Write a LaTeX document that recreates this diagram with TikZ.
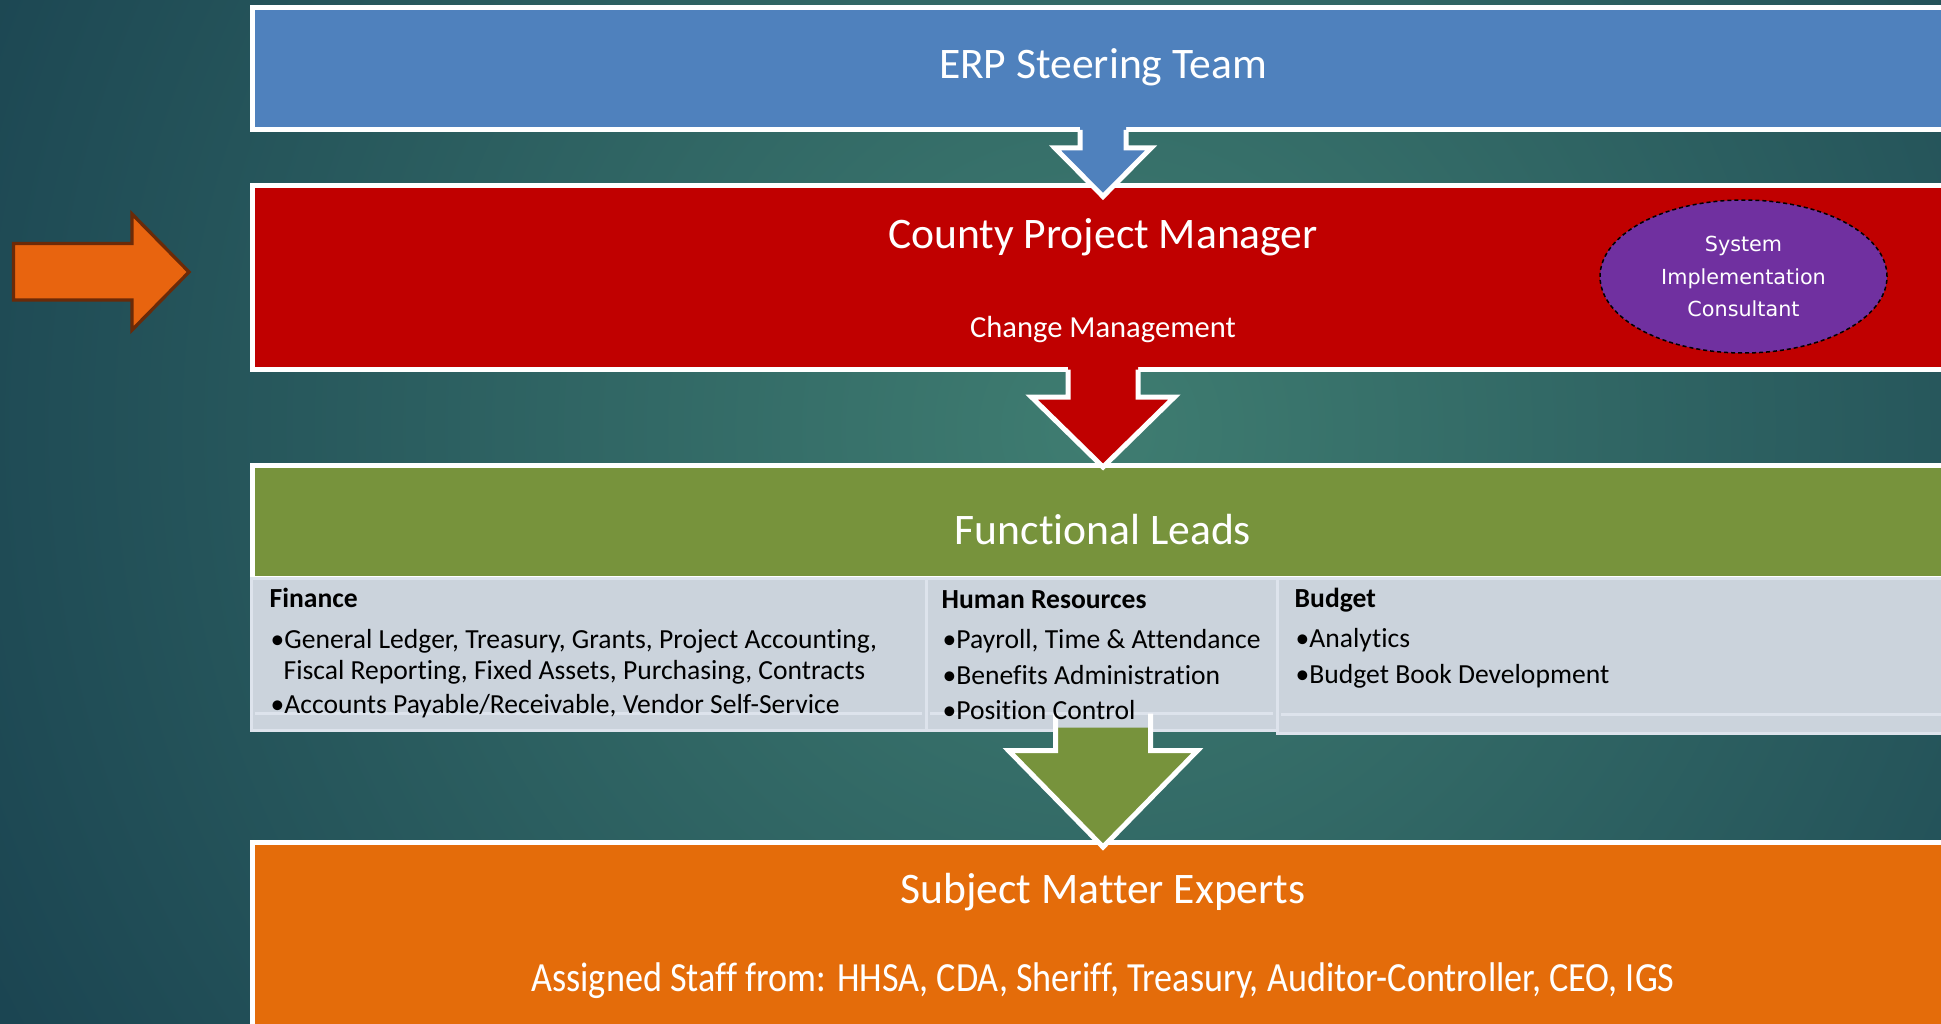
\documentclass[tikz,border=0pt]{standalone}
\usepackage{fontspec}
\usepackage{graphicx}
\setmainfont{Carlito}[Ligatures=NoCommon]
\newfontfamily\consultfamily{DejaVu Sans}
\usetikzlibrary{shapes.geometric, calc}

\definecolor{bgouter}{HTML}{18404F}
\definecolor{bginner}{HTML}{3F7D71}
\definecolor{steerblue}{HTML}{4F81BD}
\definecolor{cpmred}{HTML}{C00000}
\definecolor{leadgreen}{HTML}{77933C}
\definecolor{smeorange}{HTML}{E46C0A}
\definecolor{consultpurple}{HTML}{7030A0}
\definecolor{panelgray}{HTML}{CBD3DC}
\definecolor{panelline}{HTML}{DDE3EC}
\definecolor{pointerorange}{HTML}{E8640F}
\definecolor{pointerbrown}{HTML}{6B2A08}

\newcommand\bandtitle{\fontsize{12.4}{15}\selectfont}
\newcommand\bandsub{\fontsize{8.7}{10}\selectfont}
\newcommand\staffline{\fontsize{11.8}{14}\selectfont}
\newcommand\paneltext{\fontsize{7.85}{9}\selectfont}
\newcommand\consulttext{\consultfamily\fontsize{5.9}{9.25}\selectfont}

% block arrow: colour, start point, target node, half shaft, half head, head depth, tip offset, edge lead-in
\newcommand\flowarrow[8]{%
  \coordinate (arrowtop) at (#2 -| #3.north);
  \coordinate (arrowtip) at ($(#3.north)+(0,#7)$);
  \fill[#1] ($(arrowtop)+(-#4,-3)$) -- ($(arrowtop)+(-#4,#6)$) -- ($(arrowtop)+(-#5,#6)$) -- (arrowtip)
    -- ($(arrowtop)+(#5,#6)$) -- ($(arrowtop)+(#4,#6)$) -- ($(arrowtop)+(#4,-3)$) -- cycle;
  \draw[arrowedge] ($(arrowtop)+(-#4,-#8)$) -- ($(arrowtop)+(-#4,#6)$) -- ($(arrowtop)+(-#5,#6)$) -- (arrowtip)
    -- ($(arrowtop)+(#5,#6)$) -- ($(arrowtop)+(#4,#6)$) -- ($(arrowtop)+(#4,-#8)$);
}

\begin{document}
\begin{tikzpicture}[x=0.1mm, y=-0.1mm,
    band/.style={rectangle, draw=white, line width=0.5mm, minimum width=170.1mm, outer sep=0pt, inner sep=0pt},
    panel/.style={rectangle, fill=panelgray, draw=panelline, line width=0.3mm, outer sep=0pt, inner sep=0pt},
    bandlabel/.style={text=white, anchor=base, inner sep=0pt, font=\bandtitle},
    panellabel/.style={anchor=base west, inner sep=0pt, font=\paneltext},
    arrowedge/.style={draw=white, line width=0.5mm, miter limit=10},
    pointer/.style={fill=pointerorange, draw=pointerbrown, line width=0.33mm}]

    \useasboundingbox (0,0) rectangle (1941,1024);
    \clip (0,0) rectangle (1941,1024);

    \fill[bgouter] (0,0) rectangle (1941,1024);
    \shade[inner color=bginner, outer color=bgouter] (1100,430) circle (1350);

    \node[band, fill=steerblue, minimum height=12.25mm] (steer) at (1103,68.75) {};
    \node[band, fill=cpmred, minimum height=18.4mm] (cpm) at (1103,277.5) {};
    \node[band, fill=leadgreen, minimum height=11.3mm] (leads) at (1103,521.5) {};
    \node[band, fill=smeorange, minimum height=20mm] (smes) at (1103,942) {};

    \node[panel, minimum width=67.5mm, minimum height=15.2mm] (finance) at (588.5,654.5) {};
    \node[panel, minimum width=35.1mm, minimum height=15.2mm] (hr) at (1101.5,654.5) {};
    \node[panel, minimum width=68.3mm, minimum height=15.5mm] (budget) at (1618.5,656) {};

    \draw[panelline, line width=0.3mm] ($(finance.south west)+(4,-17)$) -- ($(finance.south east)+(-4,-17)$);
    \draw[panelline, line width=0.3mm] ($(hr.south west)+(4,-17)$) -- ($(hr.south east)+(-4,-17)$);
    \draw[panelline, line width=0.3mm] ($(budget.south west)+(4,-19)$) -- ($(budget.south east)+(-4,-19)$);

    \flowarrow{steerblue}{steer.south}{cpm}{23}{48}{18}{11}{0}
    \flowarrow{cpmred}{cpm.south}{leads}{35}{71.5}{27.5}{2}{0}
    \flowarrow{leadgreen}{hr.south}{smes}{47.5}{94.5}{20}{5}{17}

    \node[bandlabel] (steerlabel) at (1103,79) {ERP Steering Team};
    \node[bandlabel] (cpmlabel) at (1103,248) {County Project Manager};
    \node[bandlabel, font=\bandsub] (changelabel) at (1103,337) {Change Management};
    \node[bandlabel] (leadslabel) at (1103,544) {Functional Leads};
    \node[bandlabel] (smeslabel) at (1103,903) {Subject Matter Experts};
    \node[bandlabel, font=\staffline] (stafflabel) at (1103,991)
        {\resizebox{114.3mm}{\height}{Assigned Staff from: HHSA, CDA, Sheriff, Treasury, Auditor-Controller, CEO, IGS}};

    \node[panellabel, font=\paneltext\bfseries] (finhead) at (269,607) {Finance};
    \node[panellabel] (fin1) at (270,648) {•General Ledger, Treasury, Grants, Project Accounting,};
    \node[panellabel] (fin2) at (283,679) {Fiscal Reporting, Fixed Assets, Purchasing, Contracts};
    \node[panellabel] (fin3) at (270,713) {•Accounts Payable/Receivable, Vendor Self-Service};

    \node[panellabel, font=\paneltext\bfseries] (hrhead) at (941,608) {Human Resources};
    \node[panellabel] (hr1) at (942,648) {•Payroll, Time \& Attendance};
    \node[panellabel] (hr2) at (942,684) {•Benefits Administration};
    \node[panellabel] (hr3) at (942,719) {•Position Control};

    \node[panellabel, font=\paneltext\bfseries] (budhead) at (1294,607) {Budget};
    \node[panellabel] (bud1) at (1295,647) {•Analytics};
    \node[panellabel] (bud2) at (1295,683) {•Budget Book Development};

    \node[ellipse, fill=consultpurple, draw=black, dash pattern=on 0.4mm off 0.3mm, line width=0.15mm,
        minimum width=28.7mm, minimum height=15.3mm, align=center, text=white, font=\consulttext, inner sep=0pt]
        (consultant) at (1743.5,276.5) {System\\Implementation\\Consultant};

    \draw[pointer] (13.5,243.5) -- (132,243.5) -- (132,214) -- (189,272) -- (132,330) -- (132,300) -- (13.5,300) -- cycle;

\end{tikzpicture}
\end{document}
